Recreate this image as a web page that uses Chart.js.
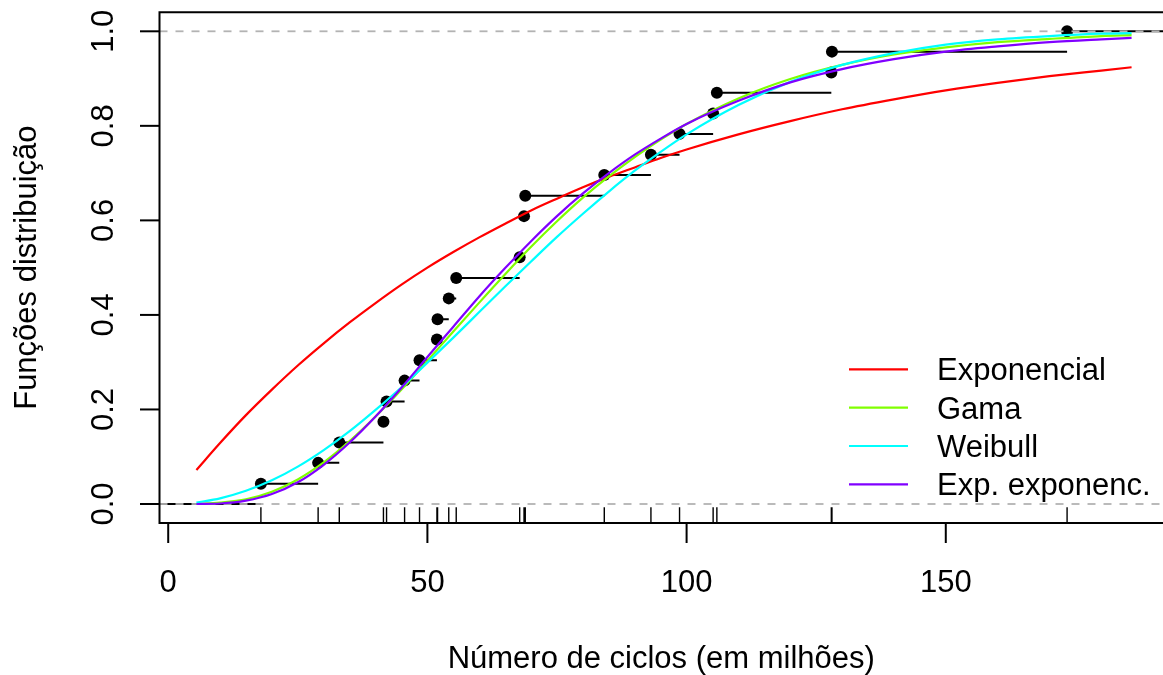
<!DOCTYPE html>
<html>
<head>
<meta charset="utf-8">
<script src="https://cdn.jsdelivr.net/npm/chart.js@4.4.0/dist/chart.umd.min.js"></script>
<style>
  html, body { margin: 0; padding: 0; background: #fff; overflow: hidden; }
  #wrap { width: 1175px; height: 675px; }
</style>
</head>
<body>
<div id="wrap"><canvas id="chart" width="1175" height="675"></canvas></div>
<script>
// ball bearing data: distinct failure times and empirical CDF
const cycles = [17.88, 28.92, 33.00, 41.52, 42.12, 45.60, 48.48, 51.84, 51.96, 54.12, 55.56,
  67.80, 68.64, 68.88, 84.12, 93.12, 98.64, 105.12, 105.84, 127.92, 128.04, 173.40];
const ecdfValues = [0.043, 0.087, 0.130, 0.174, 0.217, 0.261, 0.304, 0.348, 0.391, 0.435, 0.478,
  0.522, 0.609, 0.652, 0.696, 0.739, 0.783, 0.826, 0.870, 0.913, 0.957, 1.000];

// fitted CDF curves
const curveX = [5.44, 10, 15, 20, 25, 30, 35, 40, 45, 50, 55, 60, 65, 70, 75, 80, 85, 90, 95, 100,
  110, 120, 130, 140, 150, 160, 170, 180, 185.84];
const expoCdf = [0.072, 0.129, 0.188, 0.242, 0.293, 0.340, 0.384, 0.425, 0.464, 0.500, 0.533, 0.564,
  0.593, 0.621, 0.646, 0.670, 0.692, 0.712, 0.732, 0.750, 0.782, 0.810, 0.835, 0.856, 0.875, 0.891,
  0.905, 0.917, 0.924];
const gammaCdf = [0.000, 0.003, 0.010, 0.026, 0.052, 0.088, 0.133, 0.185, 0.242, 0.303, 0.365, 0.426,
  0.486, 0.544, 0.598, 0.648, 0.693, 0.734, 0.771, 0.804, 0.858, 0.899, 0.929, 0.951, 0.966, 0.977,
  0.984, 0.990, 0.992];
const weibullCdf = [0.003, 0.012, 0.028, 0.050, 0.079, 0.114, 0.154, 0.199, 0.247, 0.299, 0.352, 0.406,
  0.460, 0.513, 0.565, 0.614, 0.661, 0.705, 0.745, 0.782, 0.844, 0.893, 0.929, 0.954, 0.972, 0.983,
  0.990, 0.995, 0.996];
const expExpCdf = [0.000, 0.001, 0.007, 0.021, 0.046, 0.083, 0.130, 0.185, 0.246, 0.311, 0.375, 0.439,
  0.499, 0.556, 0.609, 0.657, 0.700, 0.739, 0.773, 0.804, 0.853, 0.892, 0.920, 0.941, 0.957, 0.968,
  0.977, 0.983, 0.986];

const curveLabels = ["Exponencial", "Gama", "Weibull", "Exp. exponenc."];
const curveColors = ["#FF0000", "#80FF00", "#00FFFF", "#8000FF"];
const curveSeries = [expoCdf, gammaCdf, weibullCdf, expExpCdf];

const xTicks = [0, 50, 100, 150];
const yTicks = [0, 0.2, 0.4, 0.6, 0.8, 1.0];
const xTitle = "Número de ciclos (em milhões)";
const yTitle = "Funções distribuição";

const X_MIN = -1.68, X_MAX = 193.06;
const Y_MIN = -0.0402, Y_MAX = 1.0402;
const RUG_TOP = -0.007;
const FONT = '31px "Liberation Sans", Arial, sans-serif';

// step segments of the ECDF (gaps between steps)
const stepData = [{ x: X_MIN, y: 0 }, { x: cycles[0], y: 0 }, { x: cycles[0], y: null }];
cycles.forEach((c, i) => {
  const next = i < cycles.length - 1 ? cycles[i + 1] : X_MAX;
  stepData.push({ x: c, y: ecdfValues[i] }, { x: next, y: ecdfValues[i] }, { x: next, y: null });
});
const pointData = cycles.map((c, i) => ({ x: c, y: ecdfValues[i] }));
const rugData = [];
cycles.forEach(c => rugData.push({ x: c, y: Y_MIN }, { x: c, y: RUG_TOP }, { x: c, y: null }));

const datasets = [];
curveSeries.forEach((s, k) => {
  datasets.push({
    label: curveLabels[k],
    data: curveX.map((x, i) => ({ x: x, y: s[i] })),
    borderColor: curveColors[k],
    borderWidth: 2.2,
    pointRadius: 0,
    cubicInterpolationMode: "monotone",
    order: 4 - k
  });
});
[0, 1].forEach(h => {
  datasets.push({
    data: [{ x: X_MIN, y: h }, { x: X_MAX, y: h }],
    borderColor: "#B3B3B3",
    borderWidth: 1.8,
    borderDash: [8, 8],
    pointRadius: 0,
    order: 6
  });
});
datasets.push({
  data: rugData, borderColor: "#000", borderWidth: 1.4, pointRadius: 0, spanGaps: false, order: 7
});
datasets.push({
  data: pointData, showLine: false, pointRadius: 6, pointBackgroundColor: "#000",
  pointBorderWidth: 0, borderColor: "#000", order: 8
});
datasets.push({
  data: stepData, borderColor: "#000", borderWidth: 2, pointRadius: 0, spanGaps: false, order: 9
});

// R-style axes, box, titles and legend
const rAxes = {
  id: "rAxes",
  afterDraw(chart) {
    const { ctx, chartArea: a, scales: { x, y } } = chart;
    ctx.save();
    ctx.strokeStyle = "#000";
    ctx.fillStyle = "#000";
    ctx.lineWidth = 2;
    ctx.beginPath();
    ctx.moveTo(a.right, a.top);
    ctx.lineTo(a.left, a.top);
    ctx.lineTo(a.left, a.bottom);
    ctx.lineTo(a.right, a.bottom);
    ctx.stroke();

    ctx.font = FONT;
    ctx.textAlign = "center";
    ctx.textBaseline = "alphabetic";
    xTicks.forEach(v => {
      const px = x.getPixelForValue(v);
      ctx.beginPath();
      ctx.moveTo(px, a.bottom);
      ctx.lineTo(px, a.bottom + 20);
      ctx.stroke();
      ctx.fillText(String(v), px, 591.5);
    });
    yTicks.forEach(v => {
      const py = y.getPixelForValue(v);
      ctx.beginPath();
      ctx.moveTo(a.left, py);
      ctx.lineTo(a.left - 19.5, py);
      ctx.stroke();
      ctx.save();
      ctx.translate(113.3, py);
      ctx.rotate(-Math.PI / 2);
      ctx.fillText(v.toFixed(1), 0, 0);
      ctx.restore();
    });

    ctx.fillText(xTitle, (a.left + a.right) / 2 - 3, 668);
    ctx.save();
    ctx.translate(35.5, (a.top + a.bottom) / 2);
    ctx.rotate(-Math.PI / 2);
    ctx.fillText(yTitle, 0, 0);
    ctx.restore();

    // legend
    ctx.textAlign = "left";
    curveLabels.forEach((lab, i) => {
      const ry = 369.3 + i * 38.35;
      ctx.strokeStyle = curveColors[i];
      ctx.lineWidth = 2.2;
      ctx.beginPath();
      ctx.moveTo(849, ry);
      ctx.lineTo(908, ry);
      ctx.stroke();
      ctx.fillText(lab, 937, ry + 11);
    });
    ctx.restore();
  }
};

new Chart(document.getElementById("chart"), {
  type: "line",
  data: { datasets: datasets },
  options: {
    responsive: false,
    animation: false,
    devicePixelRatio: 1,
    events: [],
    layout: { padding: { left: 159.5, top: 12.3, right: 4.4, bottom: 152 } },
    scales: {
      x: { type: "linear", min: X_MIN, max: X_MAX, display: false },
      y: { type: "linear", min: Y_MIN, max: Y_MAX, display: false }
    },
    plugins: { legend: { display: false }, tooltip: { enabled: false } }
  },
  plugins: [rAxes]
});
</script>
</body>
</html>
